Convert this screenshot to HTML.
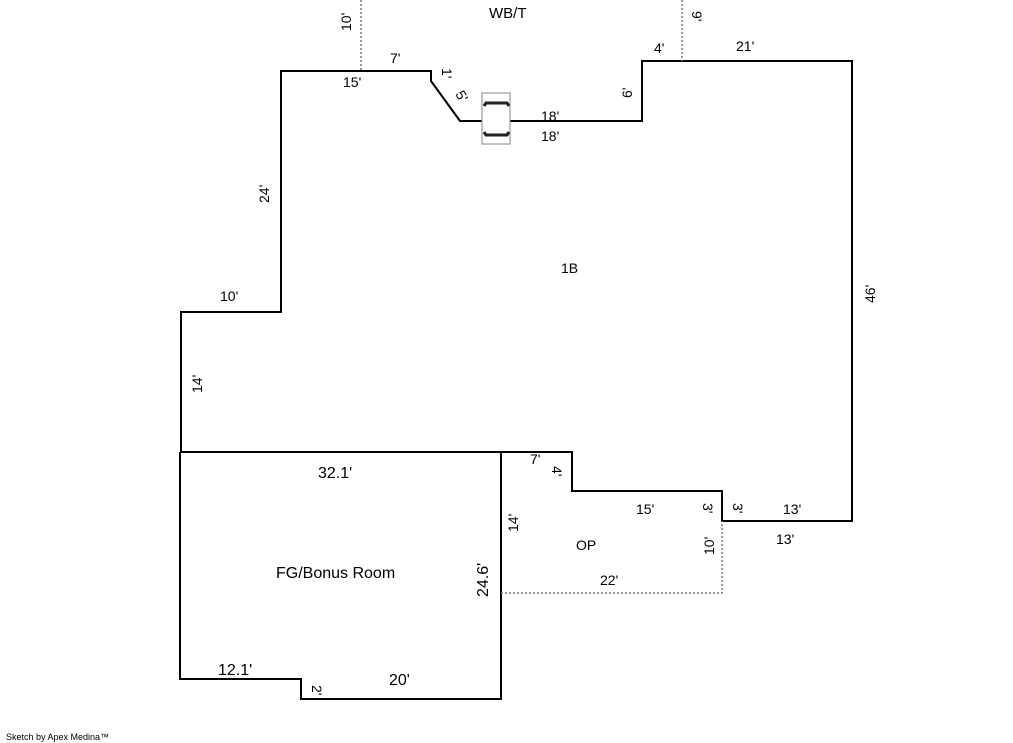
<!DOCTYPE html>
<html><head><style>
body{margin:0;background:#fff}
svg{display:block}
text{font-family:"Liberation Sans",sans-serif;font-size:14px;fill:#000}
.b{font-size:16px}
</style></head><body>
<svg width="1013" height="743" viewBox="0 0 1013 743">
<g fill="none" stroke="#000" stroke-width="2">
<polyline points="181,452 181,312 281,312 281,71 431,71 431,81 460,121 642,121 642,61 852,61 852,521 722,521 722,491 572,491 572,452 181,452"/>
<polyline points="180,452 501,452 501,699 301,699 301,679 180,679 180,452"/>
</g>
<g fill="none" stroke="#777" stroke-width="1.5" stroke-dasharray="2,2">
<polyline points="501,593 722,593 722,521"/>
<line x1="361" y1="0" x2="361" y2="71"/>
<line x1="682" y1="0" x2="682" y2="61"/>
</g>
<rect x="482" y="93" width="28" height="51" fill="#fff" stroke="#888" stroke-width="1"/>
<path d="M484,106 L486,103 L507,103 L509,106 M484,132 L486,135 L507,135 L509,132" fill="none" stroke="#222" stroke-width="3"/>
<text x="489" y="18" style="font-size:15px">WB/T</text>
<text x="561" y="273">1B</text>
<text x="576" y="550">OP</text>
<text x="276" y="578" style="font-size:16px">FG/Bonus Room</text>
<text x="390" y="63">7'</text>
<text x="343" y="87">15'</text>
<text x="654" y="53">4'</text>
<text x="736" y="51">21'</text>
<text x="541" y="121">18'</text>
<text x="541" y="141">18'</text>
<text x="220" y="301">10'</text>
<text x="636" y="514">15'</text>
<text x="783" y="514">13'</text>
<text x="776" y="544">13'</text>
<text x="600" y="585">22'</text>
<text x="530" y="464">7'</text>
<text class="b" x="318" y="478">32.1'</text>
<text class="b" x="218" y="675">12.1'</text>
<text class="b" x="389" y="685">20'</text>
<text transform="translate(351,31) rotate(-90)">10'</text>
<text transform="translate(269,203) rotate(-90)">24'</text>
<text transform="translate(202,393) rotate(-90)">14'</text>
<text transform="translate(875,303) rotate(-90)">46'</text>
<text transform="translate(632,98) rotate(-90)">6'</text>
<text transform="translate(518,532) rotate(-90)">14'</text>
<text transform="translate(714,555) rotate(-90)">10'</text>
<text class="b" transform="translate(488,597) rotate(-90)">24.6'</text>
<text transform="translate(692,11) rotate(90)">9'</text>
<text transform="translate(442,68) rotate(90)">1'</text>
<text transform="translate(455,94) rotate(60)">5'</text>
<text transform="translate(552,466) rotate(90)">4'</text>
<text transform="translate(703,503) rotate(90)">3'</text>
<text transform="translate(733,503) rotate(90)">3'</text>
<text transform="translate(312,685) rotate(90)">2'</text>
<text x="6" y="740" style="font-size:9px">Sketch by Apex Medina™</text>
</svg>
</body></html>
